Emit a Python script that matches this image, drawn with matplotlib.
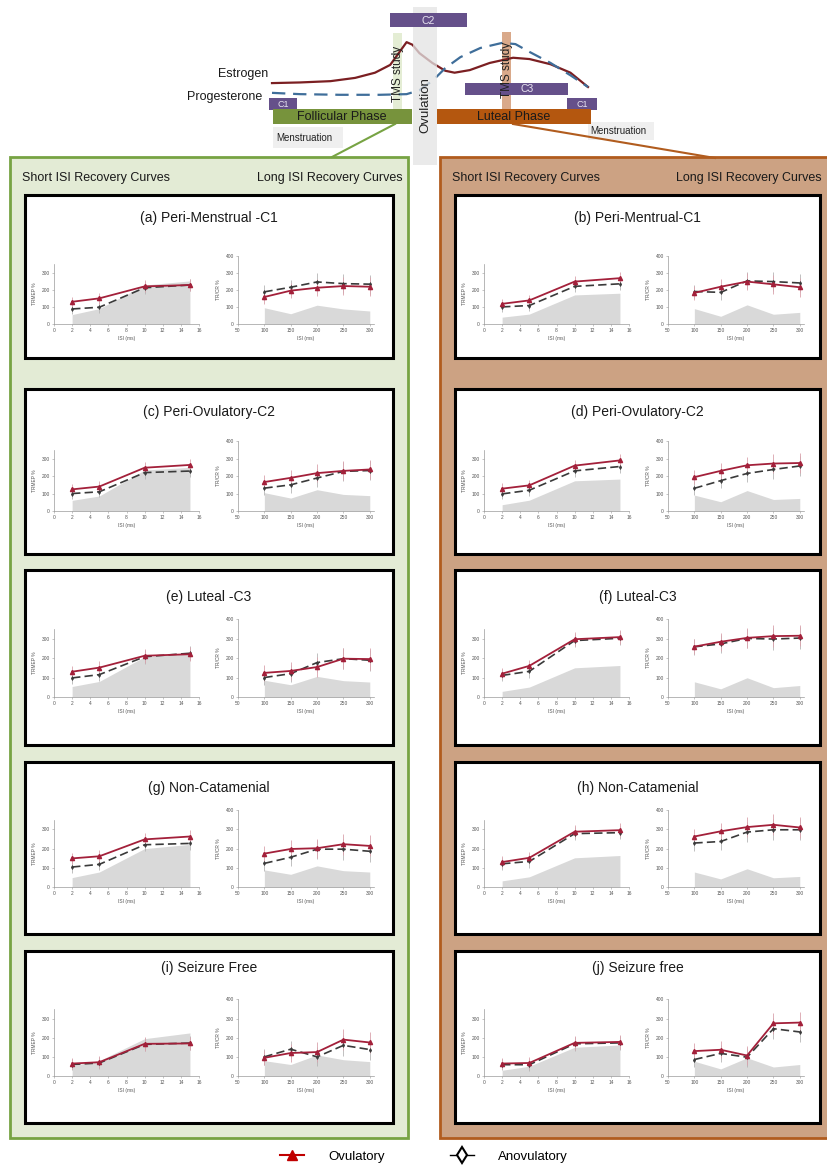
import matplotlib
import matplotlib.pyplot as plt
from matplotlib.patches import Rectangle
from matplotlib.lines import Line2D
from matplotlib.transforms import Affine2D

plt.rcParams['font.family'] = ['Liberation Sans', 'DejaVu Sans']

W, H = 827, 1169

# ---- data ----
SHORT_ISI = [2, 5, 10, 15]
LONG_ISI = [100, 150, 200, 250, 300]

PANEL_TITLES = ['(a) Peri-Menstrual -C1', '(b) Peri-Mentrual-C1',
                '(c) Peri-Ovulatory-C2', '(d) Peri-Ovulatory-C2',
                '(e) Luteal -C3', '(f) Luteal-C3',
                '(g) Non-Catamenial', '(h) Non-Catamenial',
                '(i) Seizure Free', '(j) Seizure free']

# one row per panel, a..j
SHORT_OV = [[130, 150, 220, 228], [118, 138, 248, 268],
            [124, 140, 248, 264], [128, 147, 260, 290],
            [130, 151, 212, 220], [120, 160, 297, 308],
            [149, 160, 248, 263], [130, 152, 288, 296],
            [65, 72, 168, 170], [65, 68, 173, 178]]
SHORT_AN = [[88, 98, 212, 228], [100, 108, 220, 235],
            [100, 110, 220, 229], [98, 119, 230, 255],
            [98, 115, 207, 225], [111, 132, 290, 302],
            [104, 118, 220, 227], [121, 133, 278, 283],
            [60, 68, 165, 172], [59, 59, 168, 173]]
SHORT_GRAY = [[55, 90, 228, 252], [40, 58, 170, 180],
              [61, 86, 235, 250], [36, 62, 173, 183],
              [54, 80, 207, 222], [29, 51, 150, 162],
              [49, 78, 200, 222], [32, 53, 152, 164],
              [55, 80, 195, 225], [30, 51, 150, 162]]
LONG_OV = [[158, 195, 212, 222, 218], [182, 218, 248, 232, 215],
           [166, 190, 217, 230, 238], [194, 230, 262, 272, 275],
           [124, 134, 154, 197, 195], [259, 284, 304, 313, 315],
           [174, 198, 202, 223, 214], [263, 290, 312, 324, 310],
           [95, 120, 125, 190, 175], [130, 137, 107, 275, 279]]
LONG_AN = [[188, 215, 246, 236, 233], [190, 185, 252, 248, 240],
           [131, 150, 189, 227, 232], [130, 174, 215, 238, 258],
           [100, 120, 177, 197, 189], [258, 273, 301, 298, 303],
           [123, 155, 197, 197, 186], [229, 237, 286, 298, 298],
           [100, 140, 100, 160, 138], [86, 118, 98, 247, 230]]
LONG_GRAY = [[95, 60, 110, 88, 76], [90, 45, 112, 57, 68],
             [105, 74, 122, 95, 88], [91, 53, 117, 66, 72],
             [86, 63, 106, 84, 77], [78, 42, 99, 48, 59],
             [89, 66, 110, 85, 78], [78, 42, 95, 48, 55],
             [80, 60, 110, 85, 75], [77, 37, 95, 47, 60]]

SHORT_ERR = [30, 32, 35, 35]
LONG_ERR = [40, 45, 50, 55, 55]

# schematic hormone curves (cycle day, arbitrary level)
EST_DAY = [1, 3.4, 6, 8.1, 9.8, 11.1, 11.9, 12.5, 13, 13.6, 14.7, 15.8, 16.6,
           17.9, 19.6, 21.6, 23, 24.8, 26.5, 28]
EST_LVL = [2.6, 2.7, 2.9, 3.4, 4.2, 5.4, 7.4, 8.9, 8.5, 7.2, 5.7, 4.5, 4.2,
           4.6, 5.7, 6.5, 6.3, 5.5, 4.2, 2.0]
PROG_DAY = [1, 3.4, 6.8, 10.2, 12.5, 13.6, 14.8, 15.8, 17.1, 18.8, 20.7,
            21.8, 23, 24.8, 26.5, 28]
PROG_LVL = [1.1, 0.9, 0.8, 0.8, 0.9, 1.5, 3.1, 4.9, 6.6, 8.0, 8.8, 8.6, 7.4,
            5.7, 3.8, 2.0]

# ---- layout (pixels) ----
PANEL_ROWS = [(195, 358), (389, 554), (570, 745), (762, 934), (951, 1123)]
TITLE_Y = [218, 412, 597, 788, 968]
BASE_Y = [324, 511, 697, 887, 1076]
PX_PER_100 = [17.1, 17.45, 19.45, 19.2, 19.15]
PANEL_X = [(25, 393), (455, 820)]

OV_COLOR = '#a3203a'
AN_COLOR = '#3a3a3a'
GREEN = '#77a343'
BROWN = '#b15c1e'
PURPLE = '#65508a'

fig = plt.figure(figsize=(W / 100, H / 100), dpi=100)
ax0 = fig.add_axes([0, 0, 1, 1])
ax0.set_xlim(0, W)
ax0.set_ylim(H, 0)
ax0.axis('off')
ax0.set_zorder(0)


def rect(x0, y0, x1, y1, **kw):
    ax0.add_patch(Rectangle((x0, y0), x1 - x0, y1 - y0, **kw))


# big phase boxes
rect(10, 157, 408, 1138, facecolor='#e3ebd5', edgecolor=GREEN, lw=2, zorder=1)
rect(440, 157, 840, 1138, facecolor='#cca283', edgecolor=BROWN, lw=2, zorder=1)

for x, ha, t in [(22, 'left', 'Short ISI Recovery Curves'),
                 (403, 'right', 'Long ISI Recovery Curves'),
                 (452, 'left', 'Short ISI Recovery Curves'),
                 (822, 'right', 'Long ISI Recovery Curves')]:
    ax0.text(x, 178, t, ha=ha, va='center', fontsize=9, color='#1a1a1a', zorder=3)

# ---- top diagram ----
rect(413, 7, 437, 165, facecolor='#e3e3e3', edgecolor='none', zorder=4, alpha=0.75)
ax0.text(425, 105, 'Ovulation', rotation=90, ha='center', va='center',
         fontsize=9.5, color='#222222', zorder=6)
rect(393, 33, 402, 110, facecolor='#e4edd4', edgecolor='none', zorder=2)
rect(502, 32, 511, 110, facecolor='#d9a98a', edgecolor='none', zorder=2)
ax0.text(398, 74, 'TMS study', rotation=90, ha='center', va='center',
         fontsize=8.5, color='#222222', zorder=6)
ax0.text(507, 70, 'TMS study', rotation=90, ha='center', va='center',
         fontsize=8.5, color='#222222', zorder=6)

hormone_tr = Affine2D().translate(-1, 0).scale(316 / 27, -6.5).translate(272, 100) + ax0.transData
ax0.plot(EST_DAY, EST_LVL, color='#7b1f22', lw=1.6, transform=hormone_tr, zorder=3)
ax0.plot(PROG_DAY, PROG_LVL, color='#3f6e9a', lw=1.6, ls=(0, (6, 3.5)),
         transform=hormone_tr, zorder=3)
ax0.text(268, 74, 'Estrogen', ha='right', va='center', fontsize=9, color='#1a1a1a')
ax0.text(262, 97, 'Progesterone', ha='right', va='center', fontsize=9, color='#1a1a1a')

for (x0, y0, x1, y1, tx, t, fs) in [(390, 13, 467, 27, 428, 'C2', 7.5),
                                     (465, 83, 568, 95, 527, 'C3', 7.5),
                                     (269, 98, 297, 110, 283, 'C1', 6.5),
                                     (567, 98, 597, 110, 582, 'C1', 6.5)]:
    rect(x0, y0, x1, y1, facecolor=PURPLE, edgecolor='none', zorder=5)
    ax0.text(tx, (y0 + y1) / 2 + 0.5, t, ha='center', va='center',
             fontsize=fs, color='#e8e4f0', zorder=6)

rect(273, 109, 412, 124, facecolor='#77933c', edgecolor='none', zorder=5)
ax0.text(342, 117, 'Follicular Phase', ha='center', va='center', fontsize=9,
         color='#1a1a1a', zorder=6)
rect(437, 109, 591, 124, facecolor='#b4570f', edgecolor='none', zorder=5)
ax0.text(514, 117, 'Luteal Phase', ha='center', va='center', fontsize=9,
         color='#1a1a1a', zorder=6)

rect(273, 127, 343, 148, facecolor='#efefef', edgecolor='none', zorder=2)
ax0.text(276, 138, 'Menstruation', ha='left', va='center', fontsize=7, color='#222222', zorder=6)
rect(588, 122, 654, 140, facecolor='#efefef', edgecolor='none', zorder=2)
ax0.text(590, 131, 'Menstruation', ha='left', va='center', fontsize=7, color='#222222', zorder=6)

ax0.plot([395, 332], [124, 157], color=GREEN, lw=1.5, zorder=2)
ax0.plot([513, 715], [124, 158], color=BROWN, lw=1.5, zorder=2)


# ---- panels ----
def style(ax):
    for s in ['top', 'right']:
        ax.spines[s].set_visible(False)
    for s in ['left', 'bottom']:
        ax.spines[s].set_color('#9a9a9a')
        ax.spines[s].set_linewidth(0.5)
    ax.tick_params(labelsize=3.5, length=1.5, width=0.4, pad=1.5,
                   colors='#9a9a9a', labelcolor='#555555')
    ax.set_facecolor('none')


def draw_series(ax, x, ov, an, gray, err):
    ax.fill_between(x, 0, gray, color='#d9d9d9', lw=0, zorder=1)
    ax.errorbar(x, an, yerr=err, fmt='none', ecolor='#b5b5b5', elinewidth=0.6, zorder=2)
    ax.errorbar(x, ov, yerr=err, fmt='none', ecolor='#d9a2ac', elinewidth=0.6, zorder=2)
    ax.plot(x, an, color=AN_COLOR, lw=1.2, ls=(0, (5, 2.5)), marker='d', ms=2,
            mfc=AN_COLOR, mec=AN_COLOR, mew=0.5, zorder=3)
    ax.plot(x, ov, color=OV_COLOR, lw=1.3, marker='^', ms=3, mec=OV_COLOR, zorder=4)


for k in range(10):
    row, col = k // 2, k % 2
    px0, px1 = PANEL_X[col]
    top, bot = PANEL_ROWS[row]
    rect(px0, top, px1, bot, facecolor='white', edgecolor='black', lw=2.2, zorder=2)
    ax0.text((px0 + px1) / 2, TITLE_Y[row], PANEL_TITLES[k], ha='center',
             va='center', fontsize=10, color='#1a1a1a', zorder=3)

    base = BASE_Y[row]
    s = PX_PER_100[row]

    # short ISI
    h = 3.5 * s
    axs = fig.add_axes([(px0 + 29) / W, 1 - base / H, 145 / W, h / H])
    axs.set_zorder(2)
    style(axs)
    draw_series(axs, SHORT_ISI, SHORT_OV[k], SHORT_AN[k], SHORT_GRAY[k], SHORT_ERR)
    axs.set_xlim(0, 16)
    axs.set_ylim(0, 350)
    axs.set_xticks(range(0, 17, 2))
    axs.set_yticks([0, 100, 200, 300])
    axs.set_xlabel('ISI (ms)', fontsize=3.5, color='#555555', labelpad=2)
    axs.set_ylabel('TRMEP %', fontsize=3.5, color='#555555', labelpad=3)

    # long ISI
    h = 4 * s
    axl = fig.add_axes([(px0 + 213) / W, 1 - base / H, 136 / W, h / H])
    axl.set_zorder(2)
    style(axl)
    draw_series(axl, LONG_ISI, LONG_OV[k], LONG_AN[k], LONG_GRAY[k], LONG_ERR)
    axl.set_xlim(50, 308)
    axl.set_ylim(0, 400)
    axl.set_xticks(range(50, 301, 50))
    axl.set_yticks(range(0, 401, 100))
    axl.set_xlabel('ISI (ms)', fontsize=3.5, color='#555555', labelpad=2)
    axl.set_ylabel('TR/CR %', fontsize=3.5, color='#555555', labelpad=3)

# ---- legend ----
handles = [Line2D([], [], color='#c00000', marker='^', ms=7, lw=1.5),
           Line2D([], [], color='black', marker='d', ms=8, mfc='white', mec='black',
                  mew=1.5, lw=1)]
fig.legend(handles, ['Ovulatory', 'Anovulatory'], loc='center',
           bbox_to_anchor=(424 / W, 1 - 1157 / H), ncol=2, frameon=False,
           fontsize=9.5, handlelength=1.8, handletextpad=1.8, columnspacing=5)

fig.savefig('out.png', dpi=100)
